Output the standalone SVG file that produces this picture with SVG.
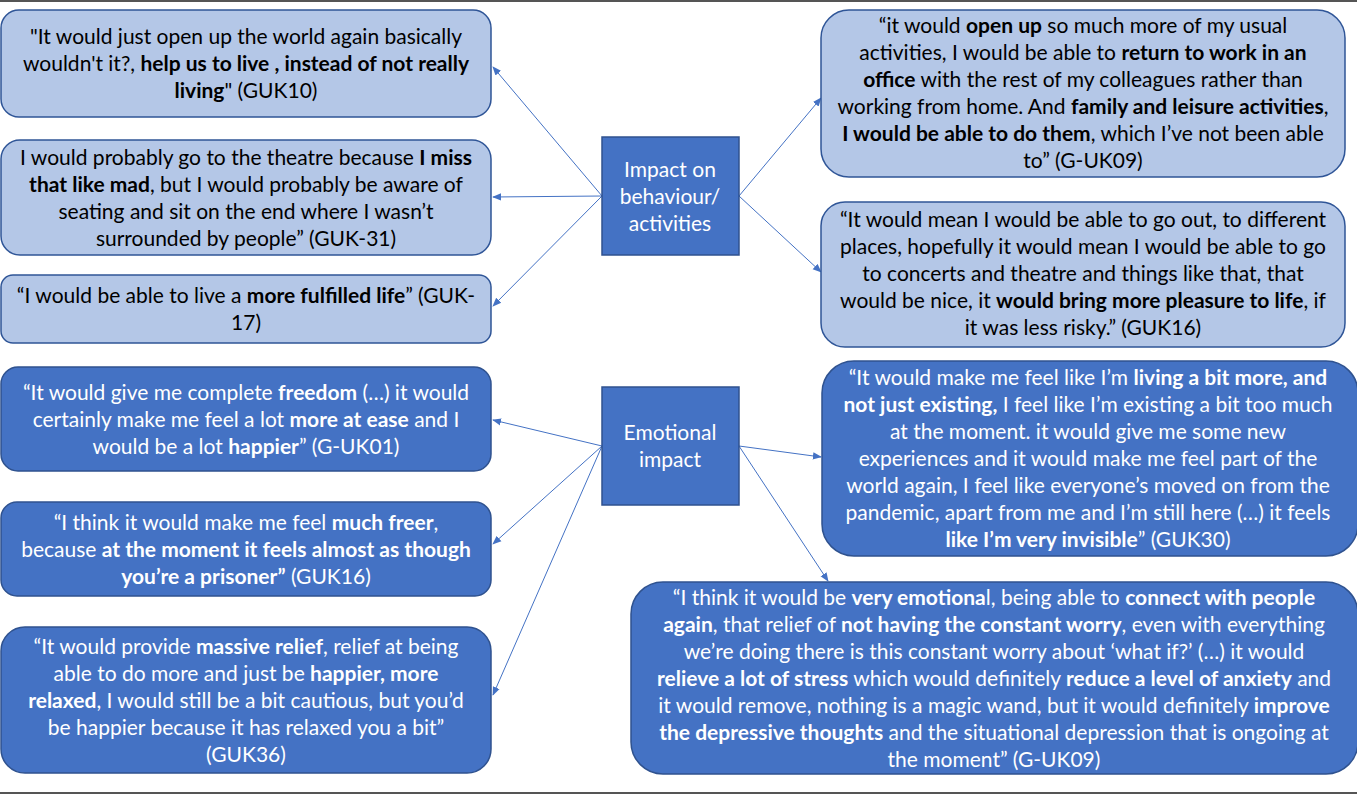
<svg xmlns="http://www.w3.org/2000/svg" width="1357" height="794" viewBox="0 0 1357 794">
<style>
text{font-family:Lato,"Liberation Sans",sans-serif;font-size:21px;text-anchor:middle}
.b{font-weight:bold}
.lt rect{fill:#B4C7E7;stroke:#2F5597;stroke-width:1.5}
.lt text{fill:#000}
.dk rect{fill:#4472C4;stroke:#2F528F;stroke-width:1.5}
.dk text{fill:#fff}
.hub rect{fill:#4472C4;stroke:#2F528F;stroke-width:1.5}
.hub text{fill:#fff;font-size:21px}
.con line{stroke:#4472C4;stroke-width:1;marker-end:url(#ah)}
.frame{stroke:#555;stroke-width:2}
</style>
<defs>
<marker id="ah" viewBox="0 0 10 10" refX="9" refY="5" markerWidth="9" markerHeight="9" markerUnits="userSpaceOnUse" orient="auto">
<path d="M0,1 L10,5 L0,9 Z" fill="#4472C4"/>
</marker>
</defs>
<rect width="1357" height="794" fill="#fff"/>
<line class="frame" x1="0" y1="1" x2="1357" y2="1"/>
<line class="frame" x1="0" y1="793" x2="1357" y2="793"/>

<g class="con">
<line x1="602" y1="196" x2="493" y2="67"/>
<line x1="602" y1="196" x2="493" y2="197"/>
<line x1="602" y1="196" x2="493" y2="306"/>
<line x1="739" y1="196" x2="821" y2="98"/>
<line x1="739" y1="196" x2="821" y2="272"/>
<line x1="602" y1="446" x2="493" y2="420"/>
<line x1="602" y1="446" x2="493" y2="544"/>
<line x1="602" y1="446" x2="493" y2="695"/>
<line x1="739" y1="446" x2="821" y2="457"/>
<line x1="739" y1="446" x2="828" y2="581"/>
</g>

<g id="hub-impact" class="hub">
<rect x="602" y="137" width="137" height="118"/>
<text x="670" y="177">Impact on</text>
<text x="670" y="204">behaviour/</text>
<text x="670" y="231">activities</text>
</g>
<g id="hub-emotional" class="hub">
<rect x="602" y="387" width="137" height="118"/>
<text x="670" y="440">Emotional</text>
<text x="670" y="467">impact</text>
</g>

<g id="q-guk10" class="lt">
<rect x="1" y="10" width="490" height="107" rx="18"/>
<text x="246" y="44">"It would just open up the world again basically</text>
<text x="246" y="71">wouldn't it?, <tspan class="b">help us to live , instead of not really</tspan></text>
<text x="246" y="98"><tspan class="b">living</tspan>" (GUK10)</text>
</g>
<g id="q-guk31" class="lt">
<rect x="1" y="140" width="490" height="115" rx="19"/>
<text x="246" y="165">I would probably go to the theatre because <tspan class="b">I miss</tspan></text>
<text x="246" y="192"><tspan class="b">that like mad</tspan>, but I would probably be aware of</text>
<text x="246" y="219">seating and sit on the end where I wasn’t</text>
<text x="246" y="246">surrounded by people” (GUK-31)</text>
</g>
<g id="q-guk17" class="lt">
<rect x="1" y="275" width="490" height="68" rx="12"/>
<text x="246" y="303">“I would be able to live a <tspan class="b">more fulfilled life</tspan>” (GUK-</text>
<text x="246" y="330">17)</text>
</g>

<g id="q-guk01" class="dk">
<rect x="1" y="367" width="490" height="104" rx="17"/>
<text x="246" y="400">“It would give me complete <tspan class="b">freedom</tspan> (…) it would</text>
<text x="246" y="427">certainly make me feel a lot <tspan class="b">more at ease</tspan> and I</text>
<text x="246" y="454">would be a lot <tspan class="b">happier</tspan>” (G-UK01)</text>
</g>
<g id="q-guk16b" class="dk">
<rect x="1" y="502" width="490" height="94" rx="16"/>
<text x="246" y="530">“I think it would make me feel <tspan class="b">much freer</tspan>,</text>
<text x="246" y="557">because <tspan class="b">at the moment it feels almost as though</tspan></text>
<text x="246" y="584"><tspan class="b">you’re a prisoner”</tspan> (GUK16)</text>
</g>
<g id="q-guk36" class="dk">
<rect x="1" y="627" width="490" height="146" rx="24"/>
<text x="246" y="654">“It would provide <tspan class="b">massive relief</tspan>, relief at being</text>
<text x="246" y="681">able to do more and just be <tspan class="b">happier, more</tspan></text>
<text x="246" y="708"><tspan class="b">relaxed</tspan>, I would still be a bit cautious, but you’d</text>
<text x="246" y="735">be happier because it has relaxed you a bit”</text>
<text x="246" y="762">(GUK36)</text>
</g>

<g id="q-guk09a" class="lt">
<rect x="821" y="10" width="524" height="167" rx="28"/>
<text x="1083" y="33">“it would <tspan class="b">open up</tspan> so much more of my usual</text>
<text x="1083" y="60">activities, I would be able to <tspan class="b">return to work in an</tspan></text>
<text x="1083" y="87"><tspan class="b">office</tspan> with the rest of my colleagues rather than</text>
<text x="1083" y="114">working from home. And <tspan class="b">family and leisure activities</tspan>,</text>
<text x="1083" y="141"><tspan class="b">I would be able to do them</tspan>, which I’ve not been able</text>
<text x="1083" y="168">to” (G-UK09)</text>
</g>
<g id="q-guk16a" class="lt">
<rect x="821" y="202" width="524" height="145" rx="24"/>
<text x="1083" y="227">“It would mean I would be able to go out, to different</text>
<text x="1083" y="254">places, hopefully it would mean I would be able to go</text>
<text x="1083" y="281">to concerts and theatre and things like that, that</text>
<text x="1083" y="308">would be nice, it <tspan class="b">would bring more pleasure to life</tspan>, if</text>
<text x="1083" y="335">it was less risky.” (GUK16)</text>
</g>

<g id="q-guk30" class="dk">
<rect x="822" y="361" width="536" height="195" rx="32"/>
<text x="1088" y="385">“It would make me feel like I’m <tspan class="b">living a bit more, and</tspan></text>
<text x="1088" y="412"><tspan class="b">not just existing,</tspan> I feel like I’m existing a bit too much</text>
<text x="1088" y="439">at the moment. it would give me some new</text>
<text x="1088" y="466">experiences and it would make me feel part of the</text>
<text x="1088" y="493">world again, I feel like everyone’s moved on from the</text>
<text x="1088" y="520">pandemic, apart from me and I’m still here (…) it feels</text>
<text x="1088" y="547"><tspan class="b">like I’m very invisible</tspan>” (GUK30)</text>
</g>
<g id="q-guk09b" class="dk">
<rect x="631" y="582" width="727" height="192" rx="32"/>
<text x="994" y="605">“I think it would be <tspan class="b">very emotiona</tspan>l, being able to <tspan class="b">connect with people</tspan></text>
<text x="994" y="632"><tspan class="b">again</tspan>, that relief of <tspan class="b">not having the constant worry</tspan>, even with everything</text>
<text x="994" y="659">we’re doing there is this constant worry about ‘what if?’ (…) it would</text>
<text x="994" y="686"><tspan class="b">relieve a lot of stress</tspan> which would definitely <tspan class="b">reduce a level of anxiety</tspan> and</text>
<text x="994" y="713">it would remove, nothing is a magic wand, but it would definitely <tspan class="b">improve</tspan></text>
<text x="994" y="740"><tspan class="b">the depressive thoughts</tspan> and the situational depression that is ongoing at</text>
<text x="994" y="767">the moment” (G-UK09)</text>
</g>
</svg>
